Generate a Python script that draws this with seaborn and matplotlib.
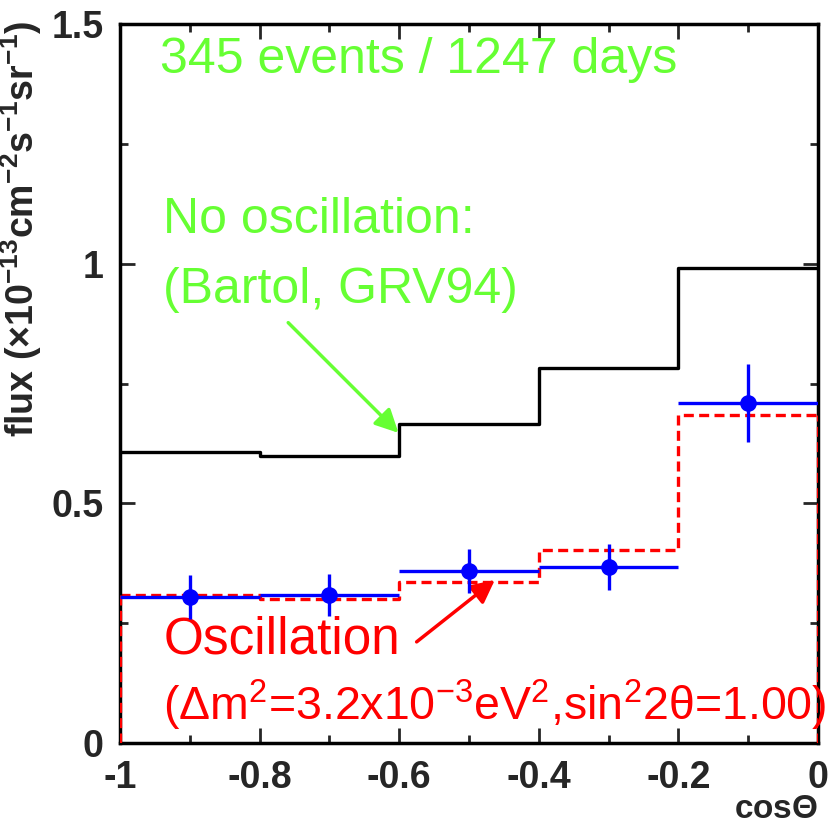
#
#   zenith angle distribution of upward going muons, with and without oscillation
#

import matplotlib
matplotlib.use("Agg")
import matplotlib.pyplot as plt
import numpy as np
import seaborn as sns
from matplotlib.ticker import MultipleLocator, FuncFormatter

# bins in cos(theta)
edges = [-1.0, -0.8, -0.6, -0.4, -0.2, 0.0]
centers = [-0.9, -0.7, -0.5, -0.3, -0.1]

# expected flux (x1e-13 cm^-2 s^-1 sr^-1)
no_osc = [0.607, 0.599, 0.666, 0.782, 0.992]
osc = [0.309, 0.300, 0.335, 0.403, 0.685]

# measured flux
data = [0.305, 0.309, 0.358, 0.367, 0.709]
data_err = [0.046, 0.044, 0.046, 0.048, 0.082]

green = "#66ff33"
dash = (0, (3, 1.6))

sns.set_style("ticks")
plt.rcParams['font.family'] = ['Liberation Sans', 'DejaVu Sans']
plt.rcParams['mathtext.default'] = 'regular'
plt.rcParams['axes.unicode_minus'] = False

fig = plt.figure(figsize=(8.35, 8.23), dpi=100)
ax = fig.add_axes([0.1437, 0.0972, 0.8359, 0.8736])

sns.histplot(x=centers, weights=no_osc, bins=edges, element="step", fill=False,
             color="black", linewidth=2.4, ax=ax)
sns.histplot(x=centers, weights=osc, bins=edges, element="step", fill=False,
             color="red", linewidth=2.4, linestyle=dash, ax=ax)
ax.vlines([edges[0], edges[-1]], 0, [osc[0], osc[-1]], color="red",
          linewidth=2.4, linestyle=dash, zorder=5)

half = np.diff(edges) / 2
ax.errorbar(centers, data, xerr=half, yerr=data_err, fmt="o", color="blue",
            ms=11, elinewidth=2.4, capsize=0, zorder=6)

ax.set_xlim(-1, 0)
ax.set_ylim(0, 1.5)
ax.xaxis.set_major_locator(MultipleLocator(0.2))
ax.xaxis.set_minor_locator(MultipleLocator(0.1))
ax.yaxis.set_major_locator(MultipleLocator(0.5))
ax.yaxis.set_minor_locator(MultipleLocator(0.25))
ax.xaxis.set_major_formatter(FuncFormatter(lambda v, p: "%g" % round(v, 2)))
ax.yaxis.set_major_formatter(FuncFormatter(lambda v, p: "%g" % round(v, 2)))
ax.tick_params(which="both", direction="in", top=True, right=True, width=2)
ax.tick_params(which="major", length=11)
ax.tick_params(which="minor", length=6)
ax.tick_params(axis="x", which="major", pad=12)
ax.tick_params(axis="y", which="major", pad=12)
for lab in ax.get_xticklabels() + ax.get_yticklabels():
    lab.set_fontsize(27)
    lab.set_fontweight("bold")
for sp in ax.spines.values():
    sp.set_linewidth(2.5)
    sp.set_color("black")

ax.set_ylabel("flux ($\\times$10$^{-13}$cm$^{-2}$s$^{-1}$sr$^{-1}$)",
              fontsize=27, fontweight="bold", va="center")
ax.yaxis.set_label_coords(-0.141, 0.715)
ax.set_xlabel("cos$\\Theta$", fontsize=24, fontweight="bold", loc="right", va="center")
ax.xaxis.set_label_coords(1.0, -0.092)

ax.text(-0.943, 1.426, "345 events / 1247 days", color=green, fontsize=36, va="center")
ax.text(-0.938, 1.092, "No oscillation:", color=green, fontsize=36, va="center")
ax.text(-0.938, 0.946, "(Bartol, GRV94)", color=green, fontsize=36, va="center")
ax.annotate("", xy=(-0.601, 0.647), xytext=(-0.759, 0.877),
            arrowprops=dict(arrowstyle="-|>", color=green, lw=2.5,
                            mutation_scale=35, shrinkA=0, shrinkB=0))

ax.text(-0.938, 0.215, "Oscillation", color="red", fontsize=37, va="center")
ax.text(-0.938, 0.079, "($\\Delta$m$^2$=3.2x10$^{-3}$eV$^2$,sin$^2$2$\\theta$=1.00)",
        color="red", fontsize=33.5, va="center", clip_on=False)
ax.annotate("", xy=(-0.463, 0.340), xytext=(-0.575, 0.211),
            arrowprops=dict(arrowstyle="-|>", color="red", lw=2.5,
                            mutation_scale=35, shrinkA=0, shrinkB=0))

fig.savefig("out.png", dpi=100)
